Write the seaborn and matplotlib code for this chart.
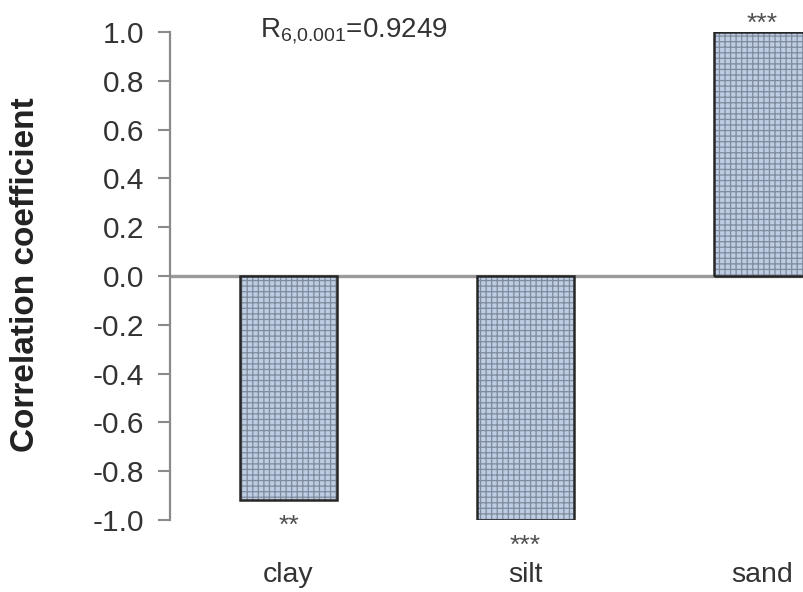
import matplotlib
matplotlib.use("Agg")
import matplotlib.pyplot as plt
import seaborn as sns
import pandas as pd

# Correlation of each soil texture fraction with the response variable
fractions = ["clay", "silt", "sand"]
coefficients = [-0.92, -1.0, 1.0]
significance = ["**", "***", "***"]
critical_label = r"R$_{\mathregular{6{,}0.001}}$=0.9249"
y_ticks = [1.0, 0.8, 0.6, 0.4, 0.2, 0.0, -0.2, -0.4, -0.6, -0.8, -1.0]

df = pd.DataFrame({"fraction": fractions, "r": coefficients})

sns.set_style("white")
plt.rcParams["font.family"] = ["Liberation Sans", "DejaVu Sans"]
plt.rcParams["mathtext.fontset"] = "custom"
plt.rcParams["mathtext.rm"] = "Liberation Sans"
plt.rcParams["hatch.linewidth"] = 0.9

fig = plt.figure(figsize=(8.04, 5.92), dpi=100)
ax = fig.add_axes([0.2114, 0.1216, 0.7886, 0.8244])

# hatched fill (brick-like texture)
sns.barplot(data=df, x="fraction", y="r", ax=ax, width=0.41,
            color="#bccde4", edgecolor="#808b9c", linewidth=0,
            hatch="+++", saturation=1)
# dark outline on top
sns.barplot(data=df, x="fraction", y="r", ax=ax, width=0.41,
            fill=False, edgecolor="#262626", linewidth=1.8)

ax.axhline(0, color="#9a9a9a", lw=2.4, zorder=0.5)

ax.set_xlim(-0.5, 2.175)
ax.set_ylim(-1.0, 1.0)
ax.set_yticks(y_ticks)
ax.set_yticklabels([f"{v:.1f}" for v in y_ticks])

for side in ["top", "right", "bottom"]:
    ax.spines[side].set_visible(False)
ax.spines["left"].set_color("#8a8a8a")
ax.spines["left"].set_linewidth(1.6)

ax.tick_params(axis="y", direction="out", length=8.6, width=1.5,
               color="#8a8a8a", labelsize=21.5, labelcolor="#333333", pad=10,
               left=True)
ax.tick_params(axis="x", length=0, labelsize=20.5, labelcolor="#333333", pad=30)

ax.set_xlabel("")
ax.set_ylabel("Correlation coefficient", fontsize=24, fontweight="bold",
              color="#222222")
ax.yaxis.set_label_coords(-0.203, 0.502)

# significance stars next to bar ends
for i, (val, stars) in enumerate(zip(coefficients, significance)):
    dy = -23.5 if val < 0 else 1
    ax.annotate(stars, (i, val), xytext=(0, dy), textcoords="offset points",
                ha="center", va="baseline", fontsize=19, color="#505050")

ax.annotate(critical_label, (-0.12, 1.0), xytext=(0, -4),
            textcoords="offset points", ha="left", va="baseline",
            fontsize=20, color="#333333")

fig.savefig("out.png", dpi=100)
